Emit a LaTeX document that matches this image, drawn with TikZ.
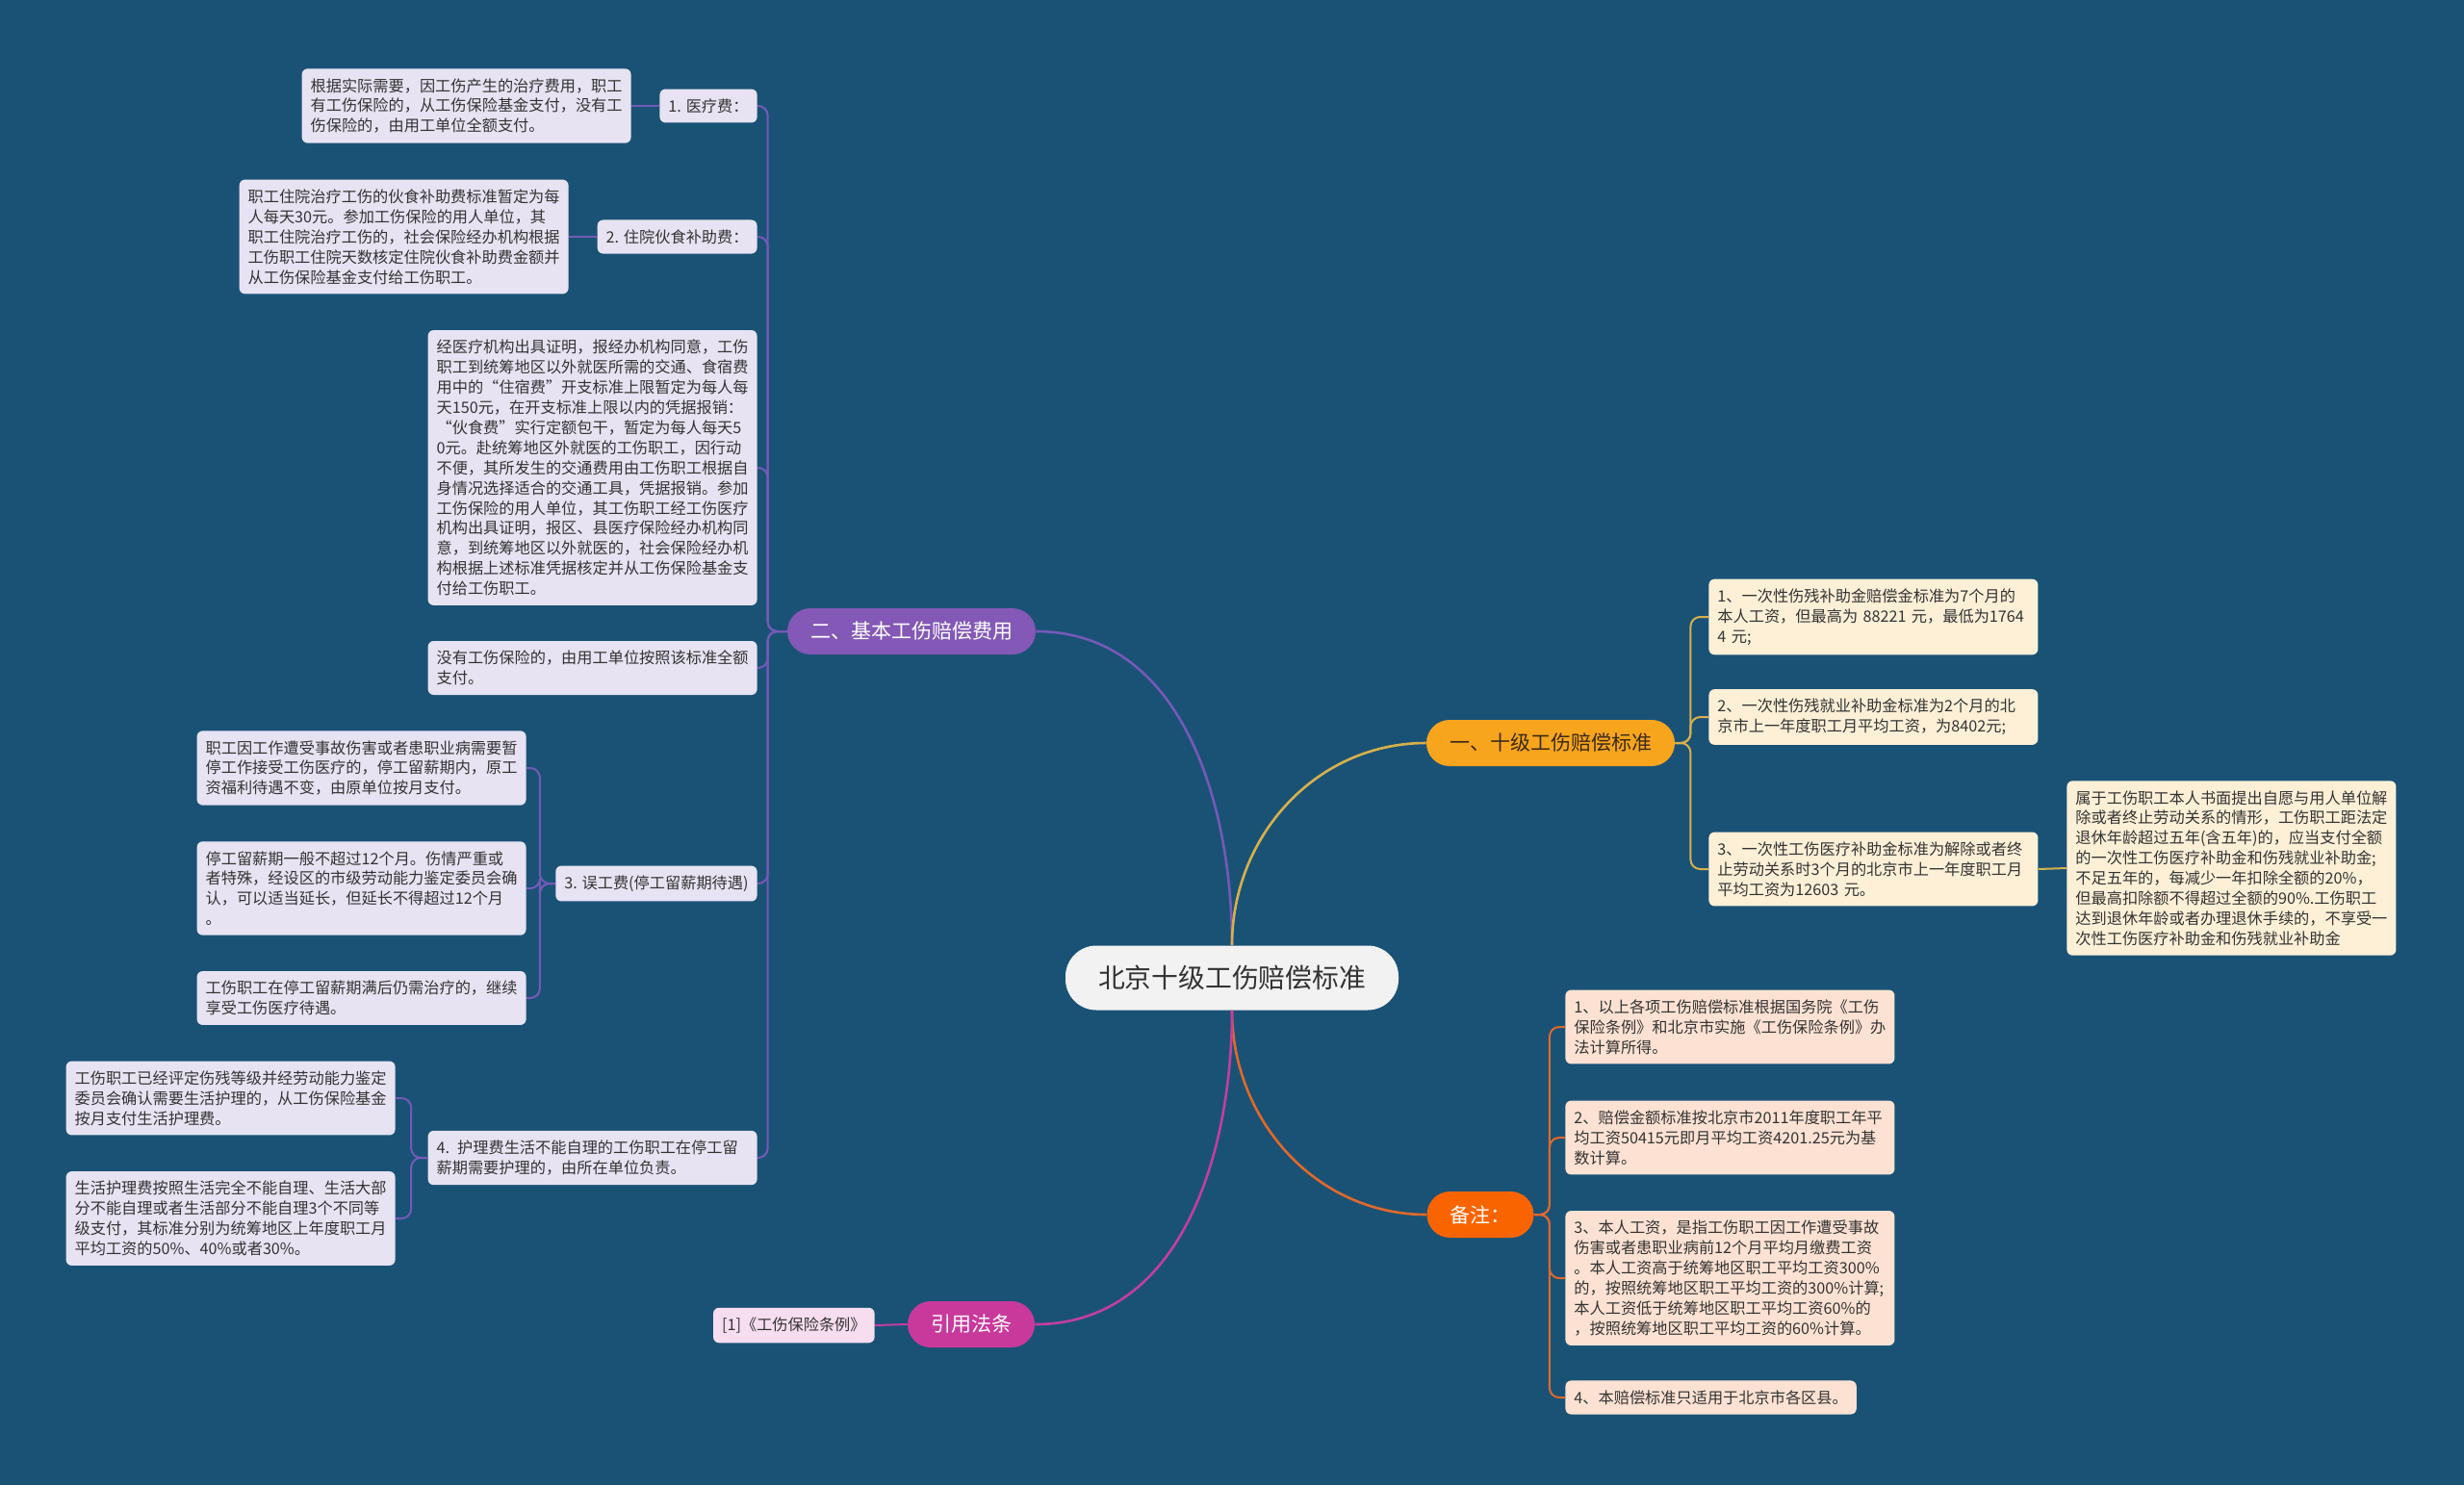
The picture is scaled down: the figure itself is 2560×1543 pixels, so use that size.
\documentclass[tikz,border=0pt]{standalone}
\usepackage{fontspec}
\newfontfamily\cjk{Noto Sans CJK SC}
\definecolor{bgblue}{HTML}{1A5276}
\definecolor{rootfill}{HTML}{F2F2F2}
\definecolor{ink}{HTML}{333333}
\definecolor{purp}{HTML}{8358B6}
\definecolor{purpline}{HTML}{7559B8}
\definecolor{purpleaf}{HTML}{E7E3F2}
\definecolor{gold}{HTML}{F8A51E}
\definecolor{goldtext}{HTML}{3B2A14}
\definecolor{goldline}{HTML}{D8B04C}
\definecolor{goldleaf}{HTML}{FDF0D7}
\definecolor{rust}{HTML}{FA6400}
\definecolor{rustline}{HTML}{E0692A}
\definecolor{rustleaf}{HTML}{FDE2D3}
\definecolor{rose}{HTML}{C9399C}
\definecolor{roseline}{HTML}{C23EA0}
\definecolor{roseleaf}{HTML}{F6DDEF}

\begin{document}
\begin{tikzpicture}[x=0.5pt,y=-0.5pt,
  root/.style={fill=rootfill,rounded corners=16pt,minimum height=33.5pt,inner xsep=17pt,font=\cjk\fontsize{13.9}{16}\selectfont},
  branch/.style={rounded corners=12pt,minimum height=24pt,inner xsep=12pt,text=white,font=\cjk\fontsize{10.5}{12}\selectfont},
  tag/.style={rounded corners=3pt,inner xsep=4.5pt,inner ysep=5pt},
  leaf/.style={tag,text width=162pt,align=left},
  link/.style={line width=1pt,rounded corners=5pt},
  stem/.style={line width=1.3pt}]
\tikzstyle{every node}=[font=\cjk\fontsize{8.1}{10.45}\selectfont,text=ink]
\fill[bgblue] (0,0) rectangle (2560,1543);

% centre and main branches
\node[root] (root) at (1280,1016) {北京十级工伤赔偿标准};
\node[branch,fill=purp] (b2) at (947,656) {二、基本工伤赔偿费用};
\node[branch,fill=gold,text=goldtext] (b1) at (1611,772) {一、十级工伤赔偿标准};
\node[branch,fill=rust] (bn) at (1538,1262) {备注：};
\node[branch,fill=rose] (bc) at (1009,1376) {引用法条};

\draw[stem,purpline] (root.north) to[out=90,in=0] (b2.east);
\draw[stem,goldline] (root.north) to[out=90,in=180] (b1.west);
\draw[stem,rustline] (root.south) to[out=-90,in=180] (bn.west);
\draw[stem,roseline] (root.south) to[out=-90,in=0] (bc.east);

% 二、基本工伤赔偿费用
\node[tag,fill=purpleaf,anchor=east] (p1) at (787,110) {1. 医疗费：};
\node[leaf,fill=purpleaf,anchor=east] (l1) at (656,110) {根据实际需要，因工伤产生的治疗费用，职工\\有工伤保险的，从工伤保险基金支付，没有工\\伤保险的，由用工单位全额支付。};
\node[tag,fill=purpleaf,anchor=east] (p2) at (787,246) {2. 住院伙食补助费：};
\node[leaf,fill=purpleaf,anchor=east] (l2) at (591,246) {职工住院治疗工伤的伙食补助费标准暂定为每\\人每天30元。参加工伤保险的用人单位，其\\职工住院治疗工伤的，社会保险经办机构根据\\工伤职工住院天数核定住院伙食补助费金额并\\从工伤保险基金支付给工伤职工。};
\node[leaf,fill=purpleaf,anchor=east] (l3) at (787,486) {经医疗机构出具证明，报经办机构同意，工伤\\职工到统筹地区以外就医所需的交通、食宿费\\用中的“住宿费”开支标准上限暂定为每人每\\天150元，在开支标准上限以内的凭据报销：\\“伙食费”实行定额包干，暂定为每人每天5\\0元。赴统筹地区外就医的工伤职工，因行动\\不便，其所发生的交通费用由工伤职工根据自\\身情况选择适合的交通工具，凭据报销。参加\\工伤保险的用人单位，其工伤职工经工伤医疗\\机构出具证明，报区、县医疗保险经办机构同\\意，到统筹地区以外就医的，社会保险经办机\\构根据上述标准凭据核定并从工伤保险基金支\\付给工伤职工。};
\node[leaf,fill=purpleaf,anchor=east] (l4) at (787,694) {没有工伤保险的，由用工单位按照该标准全额\\支付。};
\node[tag,fill=purpleaf,anchor=east] (p3) at (787,918) {3. 误工费(停工留薪期待遇)};
\node[leaf,fill=purpleaf,anchor=east] (l3a) at (547,798) {职工因工作遭受事故伤害或者患职业病需要暂\\停工作接受工伤医疗的，停工留薪期内，原工\\资福利待遇不变，由原单位按月支付。};
\node[leaf,fill=purpleaf,anchor=east] (l3b) at (547,923) {停工留薪期一般不超过12个月。伤情严重或\\者特殊，经设区的市级劳动能力鉴定委员会确\\认，可以适当延长，但延长不得超过12个月\\。};
\node[leaf,fill=purpleaf,anchor=east] (l3c) at (547,1037) {工伤职工在停工留薪期满后仍需治疗的，继续\\享受工伤医疗待遇。};
\node[leaf,fill=purpleaf,anchor=east] (p4) at (787,1203) {4. 护理费生活不能自理的工伤职工在停工留\\薪期需要护理的，由所在单位负责。};
\node[leaf,fill=purpleaf,anchor=east] (l4a) at (411,1141) {工伤职工已经评定伤残等级并经劳动能力鉴定\\委员会确认需要生活护理的，从工伤保险基金\\按月支付生活护理费。};
\node[leaf,fill=purpleaf,anchor=east] (l4b) at (411,1266) {生活护理费按照生活完全不能自理、生活大部\\分不能自理或者生活部分不能自理3个不同等\\级支付，其标准分别为统筹地区上年度职工月\\平均工资的50\%、40\%或者30\%。};

\foreach \c in {p1,p2,l3,l4,p3,p4}
  \draw[link,purpline] (b2.west) -- ++(-20,0) |- (\c.east);
\draw[link,purpline] (p1.west) -- (l1.east);
\draw[link,purpline] (p2.west) -- (l2.east);
\foreach \c in {l3a,l3b,l3c}
  \draw[link,purpline] (p3.west) -- ++(-16,0) |- (\c.east);
\foreach \c in {l4a,l4b}
  \draw[link,purpline] (p4.west) -- ++(-17,0) |- (\c.east);

% 一、十级工伤赔偿标准
\node[leaf,fill=goldleaf,anchor=west] (r1) at (1775,641) {1、一次性伤残补助金赔偿金标准为7个月的\\本人工资，但最高为 88221 元，最低为1764\\4 元;};
\node[leaf,fill=goldleaf,anchor=west] (r2) at (1775,745) {2、一次性伤残就业补助金标准为2个月的北\\京市上一年度职工月平均工资，为8402元;};
\node[leaf,fill=goldleaf,anchor=west] (r3) at (1775,903) {3、一次性工伤医疗补助金标准为解除或者终\\止劳动关系时3个月的北京市上一年度职工月\\平均工资为12603 元。};
\node[leaf,fill=goldleaf,anchor=west] (r3c) at (2147,902) {属于工伤职工本人书面提出自愿与用人单位解\\除或者终止劳动关系的情形，工伤职工距法定\\退休年龄超过五年(含五年)的，应当支付全额\\的一次性工伤医疗补助金和伤残就业补助金;\\不足五年的，每减少一年扣除全额的20\%，\\但最高扣除额不得超过全额的90\%.工伤职工\\达到退休年龄或者办理退休手续的，不享受一\\次性工伤医疗补助金和伤残就业补助金};

\foreach \c in {r1,r2,r3}
  \draw[link,goldline] (b1.east) -- ++(16,0) |- (\c.west);
\draw[link,goldline] (r3.east) -- (r3c.west);

% 备注
\node[leaf,fill=rustleaf,anchor=west] (n1) at (1626,1067) {1、以上各项工伤赔偿标准根据国务院《工伤\\保险条例》和北京市实施《工伤保险条例》办\\法计算所得。};
\node[leaf,fill=rustleaf,anchor=west] (n2) at (1626,1182) {2、赔偿金额标准按北京市2011年度职工年平\\均工资50415元即月平均工资4201.25元为基\\数计算。};
\node[leaf,fill=rustleaf,anchor=west] (n3) at (1626,1328) {3、本人工资，是指工伤职工因工作遭受事故\\伤害或者患职业病前12个月平均月缴费工资\\。本人工资高于统筹地区职工平均工资300\%\\的，按照统筹地区职工平均工资的300\%计算;\\本人工资低于统筹地区职工平均工资60\%的\\，按照统筹地区职工平均工资的60\%计算。};
\node[tag,fill=rustleaf,anchor=west] (n4) at (1626,1452) {4、本赔偿标准只适用于北京市各区县。};

\foreach \c in {n1,n2,n3,n4}
  \draw[link,rustline] (bn.east) -- ++(16,0) |- (\c.west);

% 引用法条
\node[tag,fill=roseleaf,anchor=east] (cite) at (909,1377) {[1]《工伤保险条例》};
\draw[link,roseline] (bc.west) -- (cite.east);
\end{tikzpicture}
\end{document}
